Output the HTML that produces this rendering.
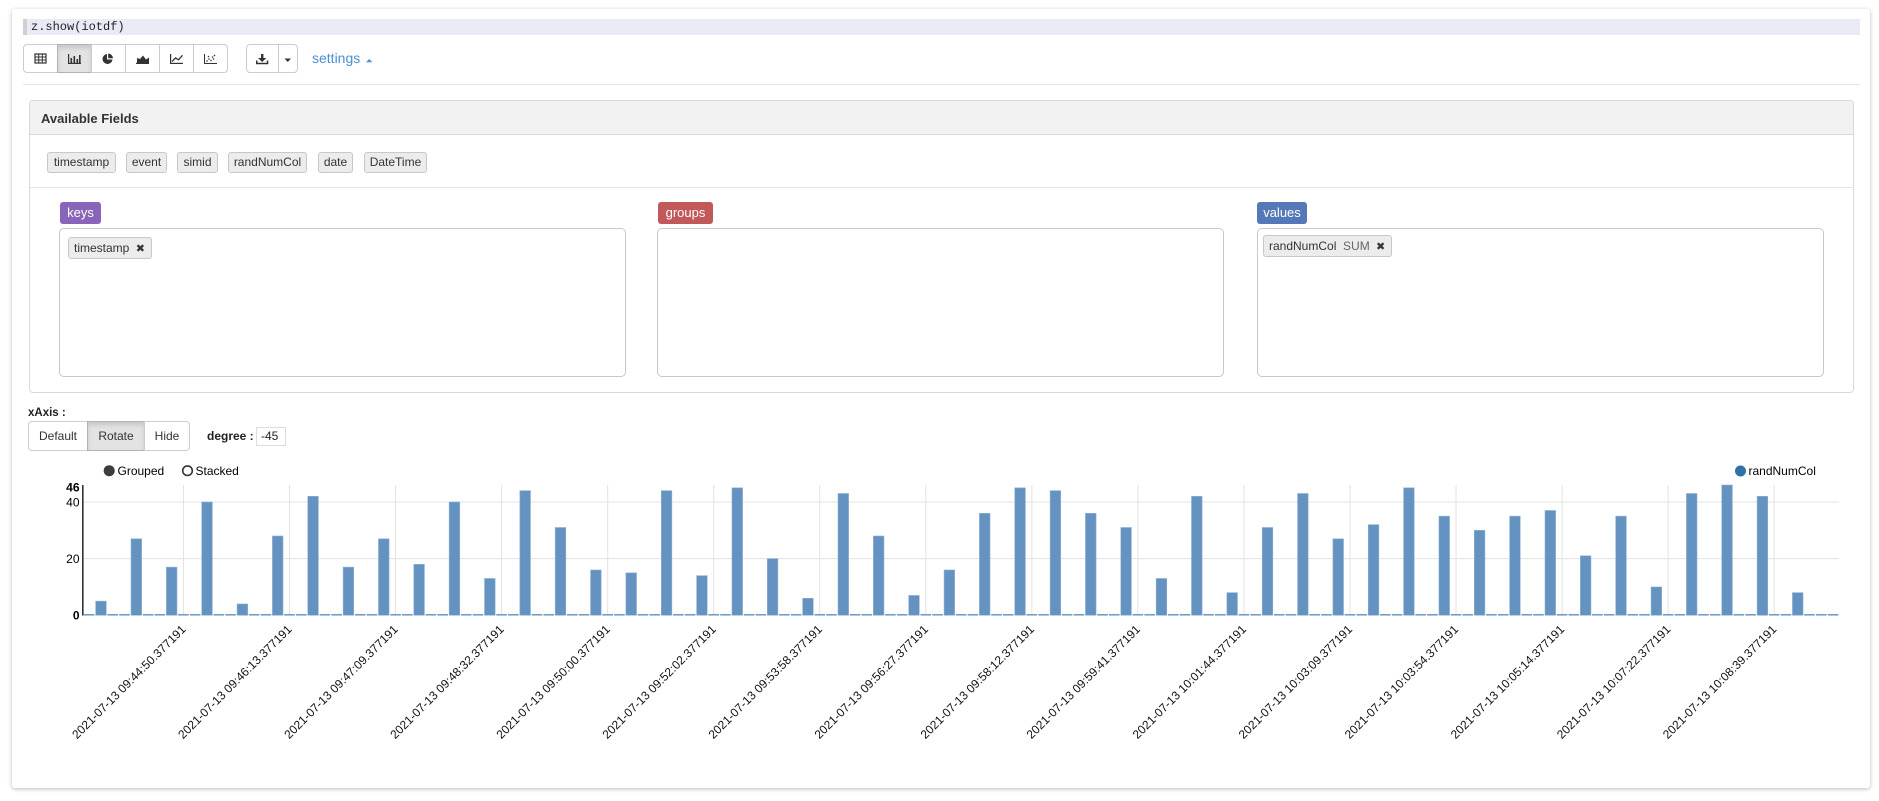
<!DOCTYPE html>
<html><head><meta charset="utf-8">
<style>
html,body{margin:0;padding:0;background:#fff;}
body{width:1879px;height:801px;position:relative;overflow:hidden;font-family:"Liberation Sans",Arial,sans-serif;color:#333;}
.a{position:absolute;box-sizing:border-box;}
.card{left:12px;top:9px;width:1858px;height:779px;background:#fff;border-radius:3px;box-shadow:0 1px 4px rgba(0,0,0,0.28);}
.code{left:23px;top:19px;width:1837px;height:16px;background:#e8eaf6;border-left:4px solid #cfcfd4;}
.codet{left:31px;top:18px;font-family:"Liberation Mono",monospace;font-size:12px;line-height:18px;color:#222;}
.btn{height:29px;top:44px;border:1px solid #ccc;background:#fff;}
.hr{left:23px;top:84px;width:1837px;height:1px;background:#e5e5e5;}
.panel{left:29px;top:100px;width:1825px;height:293px;border:1px solid #d9d9d9;border-radius:4px;}
.phead{left:30px;top:101px;width:1823px;height:34px;background:#f2f2f2;border-bottom:1px solid #d9d9d9;border-radius:3px 3px 0 0;}
.ptitle{left:41px;top:111px;font-size:13px;font-weight:bold;color:#333;line-height:16px;}
.chip{top:152px;height:21px;background:#ececec;border:1px solid #c8c8c8;border-radius:3px;font-size:12px;line-height:19px;text-align:center;color:#333;}
.sep{left:30px;top:187px;width:1823px;height:1px;background:#e5e5e5;}
.lbl{top:202px;height:22px;border-radius:3px;color:#fff;font-size:13px;line-height:21px;text-align:center;}
.box{top:228px;width:567px;height:149px;border:1px solid #c8c8c8;border-radius:5px;background:#fff;}
.ichip{height:22px;background:#ececec;border:1px solid #c8c8c8;border-radius:3px;font-size:12px;line-height:20px;color:#333;padding-left:5px;white-space:nowrap;}
.xb{top:421px;height:30px;border:1px solid #ccc;background:#fff;font-size:12px;line-height:28px;text-align:center;color:#333;}
</style></head>
<body>
<div class="a card"></div>
<div class="a code"></div>
<div class="a codet">z.show(iotdf)</div>

<div class="a btn" style="left:23px;width:35px;border-radius:4px 0 0 4px;"></div>
<div class="a btn" style="left:57px;width:35px;background:#e3e3e3;border-color:#b3b3b3;box-shadow:inset 0 3px 5px rgba(0,0,0,0.125);"></div>
<div class="a btn" style="left:91px;width:35px;"></div>
<div class="a btn" style="left:125px;width:35px;"></div>
<div class="a btn" style="left:159px;width:35px;"></div>
<div class="a btn" style="left:193px;width:35px;border-radius:0 4px 4px 0;"></div>
<div class="a btn" style="left:246px;width:33px;border-radius:4px 0 0 4px;"></div>
<div class="a btn" style="left:278px;width:20px;border-radius:0 4px 4px 0;"></div>
<div class="a" style="left:312px;top:50px;font-size:14px;line-height:16px;color:#4a8fd6;">settings</div>

<div class="a hr"></div>

<div class="a panel"></div>
<div class="a phead"></div>
<div class="a ptitle">Available Fields</div>
<div class="a chip" style="left:47px;width:69px;">timestamp</div>
<div class="a chip" style="left:126px;width:41px;">event</div>
<div class="a chip" style="left:177px;width:41px;">simid</div>
<div class="a chip" style="left:228px;width:79px;">randNumCol</div>
<div class="a chip" style="left:318px;width:35px;">date</div>
<div class="a chip" style="left:364px;width:63px;">DateTime</div>
<div class="a sep"></div>

<div class="a lbl" style="left:60px;width:41px;background:#8964b8;">keys</div>
<div class="a lbl" style="left:658px;width:55px;background:#c1585a;">groups</div>
<div class="a lbl" style="left:1257px;width:50px;background:#5579b8;">values</div>
<div class="a box" style="left:59px;"></div>
<div class="a box" style="left:657px;"></div>
<div class="a box" style="left:1257px;"></div>
<div class="a ichip" style="left:68px;top:237px;width:84px;">timestamp <span style="font-family:'DejaVu Sans',sans-serif;font-size:11px;margin-left:3px;">✖</span></div>
<div class="a ichip" style="left:1263px;top:235px;width:129px;">randNumCol&nbsp;&nbsp;<span style="color:#666;">SUM</span> <span style="font-family:'DejaVu Sans',sans-serif;font-size:11px;margin-left:3px;color:#333;">✖</span></div>

<div class="a" style="left:28px;top:406px;font-size:11.5px;font-weight:bold;line-height:14px;color:#222;">xAxis :</div>
<div class="a xb" style="left:28px;width:60px;border-radius:4px 0 0 4px;">Default</div>
<div class="a xb" style="left:87px;width:58px;background:#e3e3e3;border-color:#b3b3b3;box-shadow:inset 0 3px 5px rgba(0,0,0,0.125);">Rotate</div>
<div class="a xb" style="left:144px;width:46px;border-radius:0 4px 4px 0;">Hide</div>
<div class="a" style="left:207px;top:429px;font-size:12px;font-weight:bold;line-height:14px;color:#222;">degree :</div>
<div class="a" style="left:256px;top:427px;width:30px;height:19px;border:1px solid #ddd;font-size:12px;line-height:17px;padding-left:4px;color:#222;">-45</div>

<svg class="a" style="left:0;top:0;" width="1879" height="801" viewBox="0 0 1879 801" xmlns="http://www.w3.org/2000/svg">
<!-- toolbar icons -->
<g fill="#333" stroke="none">
  <rect x="35" y="54" width="11" height="9" fill="none" stroke="#333" stroke-width="1.2"/>
  <line x1="35" y1="57" x2="46" y2="57" stroke="#333"/><line x1="35" y1="60" x2="46" y2="60" stroke="#333"/>
  <line x1="38.7" y1="54" x2="38.7" y2="63" stroke="#333"/><line x1="42.3" y1="54" x2="42.3" y2="63" stroke="#333"/>
  <rect x="68" y="54" width="1.2" height="10"/><rect x="68" y="62.8" width="13" height="1.2"/>
  <rect x="70.5" y="58" width="1.6" height="5"/><rect x="73.5" y="56" width="1.6" height="7"/><rect x="76.5" y="59" width="1.6" height="4"/><rect x="79" y="55" width="1.6" height="8"/>
  <path d="M107,54 A5,5 0 1,0 112.5,59.5 L107,59.5 Z"/><path d="M108.2,53.5 A5,5 0 0,1 113,58.3 L108.2,58.3 Z"/>
  <rect x="136" y="62.8" width="13" height="1.2"/><path d="M137,63 L137,58 L140,59 L143,55.5 L146,59.5 L149,57.5 L149,63 Z"/>
  <rect x="170" y="54" width="1.2" height="10"/><rect x="170" y="62.8" width="13" height="1.2"/>
  <polyline points="172,61.5 175.5,58 178.5,59.8 182.5,55.3" fill="none" stroke="#333" stroke-width="1.3"/>
  <rect x="204" y="54" width="1" height="10"/><rect x="204" y="63" width="13" height="1"/>
  <circle cx="207" cy="61" r="0.8"/><circle cx="209" cy="59" r="0.8"/><circle cx="211" cy="60.5" r="0.8"/><circle cx="212.5" cy="57" r="0.8"/><circle cx="214.5" cy="55.5" r="0.8"/><circle cx="213.5" cy="59" r="0.8"/><circle cx="208.5" cy="56.5" r="0.8"/>
  <rect x="261" y="54" width="2.4" height="4.5"/><path d="M258,58 L266.4,58 L262.2,62 Z"/>
  <path d="M256,60.5 L257.5,60.5 L257.5,62.7 L266.8,62.7 L266.8,60.5 L268.3,60.5 L268.3,64.3 L256,64.3 Z"/>
  <path d="M284.5,58.5 L291,58.5 L287.75,62 Z"/>
  <path d="M366,62.3 L372.4,62.3 L369.2,59 Z" fill="#4a8fd6"/>
</g>

<!-- legend -->
<circle cx="109.2" cy="470.7" r="5.5" fill="#3d3d3d"/>
<text x="117.5" y="475" font-size="12" fill="#000" font-family="Liberation Sans, Arial, sans-serif">Grouped</text>
<circle cx="187.5" cy="470.7" r="4.8" fill="#fff" stroke="#333" stroke-width="1.6"/>
<text x="195.5" y="475" font-size="12" fill="#000" font-family="Liberation Sans, Arial, sans-serif">Stacked</text>
<circle cx="1740.5" cy="471" r="5.5" fill="#3071a9"/>
<text x="1748.5" y="475" font-size="12" fill="#000" font-family="Liberation Sans, Arial, sans-serif">randNumCol</text>

<!-- grid -->
<g stroke="#e3e3e3" stroke-width="1">
  <line x1="83.3" y1="558.65" x2="1839" y2="558.65"/>
  <line x1="83.3" y1="502.0" x2="1839" y2="502.0"/>
  <line x1="183.46" y1="485" x2="183.46" y2="615"/>
  <line x1="289.51" y1="485" x2="289.51" y2="615"/>
  <line x1="395.56" y1="485" x2="395.56" y2="615"/>
  <line x1="501.61" y1="485" x2="501.61" y2="615"/>
  <line x1="607.66" y1="485" x2="607.66" y2="615"/>
  <line x1="713.71" y1="485" x2="713.71" y2="615"/>
  <line x1="819.76" y1="485" x2="819.76" y2="615"/>
  <line x1="925.80" y1="485" x2="925.80" y2="615"/>
  <line x1="1031.85" y1="485" x2="1031.85" y2="615"/>
  <line x1="1137.90" y1="485" x2="1137.90" y2="615"/>
  <line x1="1243.95" y1="485" x2="1243.95" y2="615"/>
  <line x1="1350.00" y1="485" x2="1350.00" y2="615"/>
  <line x1="1456.05" y1="485" x2="1456.05" y2="615"/>
  <line x1="1562.10" y1="485" x2="1562.10" y2="615"/>
  <line x1="1668.15" y1="485" x2="1668.15" y2="615"/>
  <line x1="1774.20" y1="485" x2="1774.20" y2="615"/>
</g>

<!-- zero bars baseline -->
<line x1="83.889" y1="614.8" x2="1839" y2="614.8" stroke="#5f8fc0" stroke-width="1.3" stroke-dasharray="10.605 1.178"/>

<!-- bars -->
<g fill="#6593c1" stroke="#8fb0d4" stroke-width="0.6">
<rect x="95.67" y="601.14" width="10.6" height="14.16"/>
<rect x="131.02" y="538.82" width="10.6" height="76.48"/>
<rect x="166.37" y="567.15" width="10.6" height="48.15"/>
<rect x="201.72" y="502.0" width="10.6" height="113.3"/>
<rect x="237.07" y="603.97" width="10.6" height="11.33"/>
<rect x="272.42" y="535.99" width="10.6" height="79.31"/>
<rect x="307.77" y="496.33" width="10.6" height="118.97"/>
<rect x="343.12" y="567.15" width="10.6" height="48.15"/>
<rect x="378.47" y="538.82" width="10.6" height="76.48"/>
<rect x="413.82" y="564.31" width="10.6" height="50.99"/>
<rect x="449.17" y="502.0" width="10.6" height="113.3"/>
<rect x="484.52" y="578.48" width="10.6" height="36.82"/>
<rect x="519.87" y="490.67" width="10.6" height="124.63"/>
<rect x="555.22" y="527.49" width="10.6" height="87.81"/>
<rect x="590.57" y="569.98" width="10.6" height="45.32"/>
<rect x="625.92" y="572.81" width="10.6" height="42.49"/>
<rect x="661.27" y="490.67" width="10.6" height="124.63"/>
<rect x="696.62" y="575.64" width="10.6" height="39.66"/>
<rect x="731.97" y="487.83" width="10.6" height="127.47"/>
<rect x="767.32" y="558.65" width="10.6" height="56.65"/>
<rect x="802.66" y="598.3" width="10.6" height="17.0"/>
<rect x="838.01" y="493.5" width="10.6" height="121.8"/>
<rect x="873.36" y="535.99" width="10.6" height="79.31"/>
<rect x="908.71" y="595.47" width="10.6" height="19.83"/>
<rect x="944.06" y="569.98" width="10.6" height="45.32"/>
<rect x="979.41" y="513.33" width="10.6" height="101.97"/>
<rect x="1014.76" y="487.83" width="10.6" height="127.47"/>
<rect x="1050.11" y="490.67" width="10.6" height="124.63"/>
<rect x="1085.46" y="513.33" width="10.6" height="101.97"/>
<rect x="1120.81" y="527.49" width="10.6" height="87.81"/>
<rect x="1156.16" y="578.48" width="10.6" height="36.82"/>
<rect x="1191.51" y="496.33" width="10.6" height="118.97"/>
<rect x="1226.86" y="592.64" width="10.6" height="22.66"/>
<rect x="1262.21" y="527.49" width="10.6" height="87.81"/>
<rect x="1297.56" y="493.5" width="10.6" height="121.8"/>
<rect x="1332.91" y="538.82" width="10.6" height="76.48"/>
<rect x="1368.26" y="524.66" width="10.6" height="90.64"/>
<rect x="1403.61" y="487.83" width="10.6" height="127.47"/>
<rect x="1438.96" y="516.16" width="10.6" height="99.14"/>
<rect x="1474.31" y="530.32" width="10.6" height="84.98"/>
<rect x="1509.66" y="516.16" width="10.6" height="99.14"/>
<rect x="1545.01" y="510.49" width="10.6" height="104.81"/>
<rect x="1580.36" y="555.82" width="10.6" height="59.48"/>
<rect x="1615.71" y="516.16" width="10.6" height="99.14"/>
<rect x="1651.06" y="586.97" width="10.6" height="28.33"/>
<rect x="1686.41" y="493.5" width="10.6" height="121.8"/>
<rect x="1721.76" y="485.0" width="10.6" height="130.3"/>
<rect x="1757.11" y="496.33" width="10.6" height="118.97"/>
<rect x="1792.45" y="592.64" width="10.6" height="22.66"/>
</g>

<!-- y axis -->
<line x1="82.8" y1="485" x2="82.8" y2="615.5" stroke="#333" stroke-width="1.6"/>
<g font-family="Liberation Sans, Arial, sans-serif" font-size="12" fill="#000" text-anchor="end">
  <text x="79.5" y="491.3" font-weight="bold">46</text>
  <text x="79.5" y="506.3">40</text>
  <text x="79.5" y="563">20</text>
  <text x="79.5" y="619.6" font-weight="bold">0</text>
</g>

<!-- x labels -->
<g font-family="Liberation Sans, Arial, sans-serif" font-size="12" fill="#111" text-anchor="end">
<text transform="translate(186.5,630) rotate(-45)">2021-07-13 09:44:50.377191</text>
<text transform="translate(292.5,630) rotate(-45)">2021-07-13 09:46:13.377191</text>
<text transform="translate(398.6,630) rotate(-45)">2021-07-13 09:47:09.377191</text>
<text transform="translate(504.6,630) rotate(-45)">2021-07-13 09:48:32.377191</text>
<text transform="translate(610.7,630) rotate(-45)">2021-07-13 09:50:00.377191</text>
<text transform="translate(716.7,630) rotate(-45)">2021-07-13 09:52:02.377191</text>
<text transform="translate(822.8,630) rotate(-45)">2021-07-13 09:53:58.377191</text>
<text transform="translate(928.8,630) rotate(-45)">2021-07-13 09:56:27.377191</text>
<text transform="translate(1034.9,630) rotate(-45)">2021-07-13 09:58:12.377191</text>
<text transform="translate(1140.9,630) rotate(-45)">2021-07-13 09:59:41.377191</text>
<text transform="translate(1247.0,630) rotate(-45)">2021-07-13 10:01:44.377191</text>
<text transform="translate(1353.0,630) rotate(-45)">2021-07-13 10:03:09.377191</text>
<text transform="translate(1459.1,630) rotate(-45)">2021-07-13 10:03:54.377191</text>
<text transform="translate(1565.1,630) rotate(-45)">2021-07-13 10:05:14.377191</text>
<text transform="translate(1671.2,630) rotate(-45)">2021-07-13 10:07:22.377191</text>
<text transform="translate(1777.2,630) rotate(-45)">2021-07-13 10:08:39.377191</text>
</g>
</svg>
</body></html>
